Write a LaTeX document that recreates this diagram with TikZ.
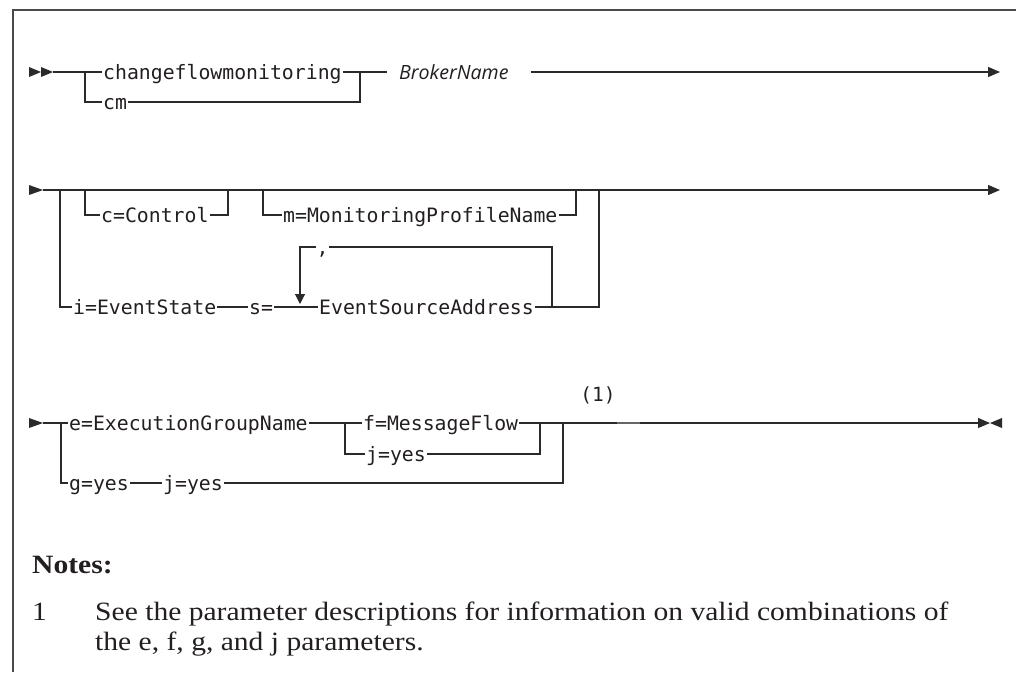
\documentclass[tikz,border=0pt]{standalone}
\usepackage{fontspec}
\setmainfont{Liberation Serif}
\newfontfamily\notefont[FakeStretch=1.12]{Liberation Serif}
\newfontfamily\synfont{DejaVu Sans Mono}
\newfontfamily\varfont{Open Sans}
\usetikzlibrary{arrows.meta}
\definecolor{ink}{HTML}{231F20}
\definecolor{rl}{HTML}{2A2A2A}
\definecolor{framec}{HTML}{4A4A4A}
\begin{document}
\begin{tikzpicture}[x=1pt,y=-1pt,
  rail/.style={draw=rl,line width=1.1pt},
  endarrow/.style={rail,-{Triangle[length=12pt,width=10pt]}},
  looparrow/.style={rail,-{Triangle[length=10pt,width=10pt]}},
  kw/.style={font=\synfont\fontsize{19.8}{20}\selectfont,text=ink,inner xsep=1pt,inner ysep=0pt,
     text height=14.6pt,text depth=0pt,anchor=west},
  varname/.style={font=\varfont\itshape\fontsize{19.6}{20}\selectfont,text=ink,inner sep=0pt,
     text height=14.6pt,text depth=0pt,anchor=west},
  notetext/.style={font=\notefont\fontsize{26.4}{30}\selectfont,text=ink,inner sep=0pt,anchor=base west},
  tip/.style={fill=rl}
]
\useasboundingbox (0,0) rectangle (1016,672);
\fill[white] (0,0) rectangle (1016,672);

% frame
\coordinate (fTR) at (1016,10);
\coordinate (fTL) at (13,10);
\coordinate (fBL) at (13,672);
\draw[framec,line width=1.3pt] (fTR) -- (fTL) -- (fBL);

% ---------------- Row 1 ----------------
\coordinate (s1) at (29,72);
\fill[tip] (s1) ++(0,-5) -- ++(12,5) -- ++(-12,5) -- cycle;
\fill[tip] (s1) ++(12,-5) -- ++(12,5) -- ++(-12,5) -- cycle;
\coordinate (r1s) at (53,72);
\coordinate (j1a) at (85,72);
\coordinate (j1b) at (360,72);
\coordinate (r1e) at (1000,72);
\node[kw] (cfm) at (102,72) {changeflowmonitoring};
\node[kw] (cmn) at (102,102) {cm};
\node[varname] (bn) at (399,72) {BrokerName};
\draw[rail] (r1s) -- (cfm.west);
\draw[rail] (j1a) |- (cmn.west);
\draw[rail] (cmn.east) -| (j1b);
\draw[rail] (cfm.east) -- ([xshift=-12pt]bn.west);
\draw[endarrow] ([xshift=22pt]bn.east) -- (r1e);

% ---------------- Row 2 ----------------
\coordinate (s2) at (29,190);
\fill[tip] (s2) ++(0,-5) -- ++(14,5) -- ++(-14,5) -- cycle;
\coordinate (r2s) at (43,190);
\coordinate (r2e) at (1000,190);
\coordinate (ja) at (60,190);
\coordinate (jb) at (85,190);
\coordinate (jc) at (228,190);
\coordinate (jd) at (263,190);
\coordinate (je) at (576,190);
\coordinate (jf) at (599,190);
\draw[endarrow] (r2s) -- (r2e);
\node[kw] (cc) at (100,215) {c=Control};
\node[kw] (mm) at (282,215) {m=MonitoringProfileName};
\node[kw] (ie) at (72,307) {i=EventState};
\node[kw] (ss) at (248,307) {s=};
\node[kw] (esa) at (318,307) {EventSourceAddress};
\draw[rail] (jb) |- (cc.west);
\draw[rail] (cc.east) -| (jc);
\draw[rail] (jd) |- (mm.west);
\draw[rail] (mm.east) -| (je);
\draw[rail] (ja) |- (ie.west);
\draw[rail] (ie.east) -- (ss.west);
\draw[rail] (ss.east) -- (esa.west);
\draw[rail] (esa.east) -| (jf);
% repeat loop
\coordinate (lpB) at (552,307);
\coordinate (lpTip) at (300,304);
\node[kw,anchor=center,inner xsep=0pt] (comma) at (322.5,247) {,};
\draw[rail] (lpB) |- (comma.east);
\draw[looparrow] (comma.west) -| (lpTip);

% ---------------- Row 3 ----------------
\coordinate (s3) at (29,423);
\fill[tip] (s3) ++(0,-5) -- ++(14,5) -- ++(-14,5) -- cycle;
\coordinate (r3s) at (43,423);
\coordinate (g0) at (61,423);
\coordinate (h1) at (345,423);
\coordinate (h2) at (540,423);
\coordinate (h3) at (563,423);
\coordinate (r3e) at (990,423);
\node[kw] (eg) at (68,423) {e=ExecutionGroupName};
\node[kw] (fm) at (362,423) {f=MessageFlow};
\node[kw] (jy1) at (365,454) {j=yes};
\node[kw] (gy) at (68,483) {g=yes};
\node[kw] (jy2) at (162,483) {j=yes};
\draw[rail] (r3s) -- (eg.west);
\draw[rail] (g0) |- (gy.west);
\draw[rail] (eg.east) -- (fm.west);
\draw[rail] (h1) |- (jy1.west);
\draw[rail] (jy1.east) -| (h2);
\draw[rail] (gy.east) -- (jy2.west);
\draw[rail] (jy2.east) -| (h3);
\draw[endarrow] (fm.east) -- (r3e);
\fill[tip] (r3e) -- ++(12,-5) -- ++(0,10) -- cycle;
\node[font=\synfont\fontsize{19.5}{20}\selectfont,text=ink,inner sep=0pt] (fn1) at (598,395) {(1)};
\coordinate (gdA) at (617,423);
\coordinate (gdB) at (640,423);
\draw[black!60,line width=1.6pt] (gdA) -- (gdB);

% ---------------- Notes ----------------
\node[notetext,font=\notefont\bfseries\fontsize{26.4}{30}\selectfont] (notes) at (32,573) {Notes:};
\node[notetext] (nnum) at (32,620) {1};
\node[notetext] (nl1) at (95,620) {See the parameter descriptions for information on valid combinations of};
\node[notetext] (nl2) at (95,650) {the e, f, g, and j parameters.};
\end{tikzpicture}
\end{document}
